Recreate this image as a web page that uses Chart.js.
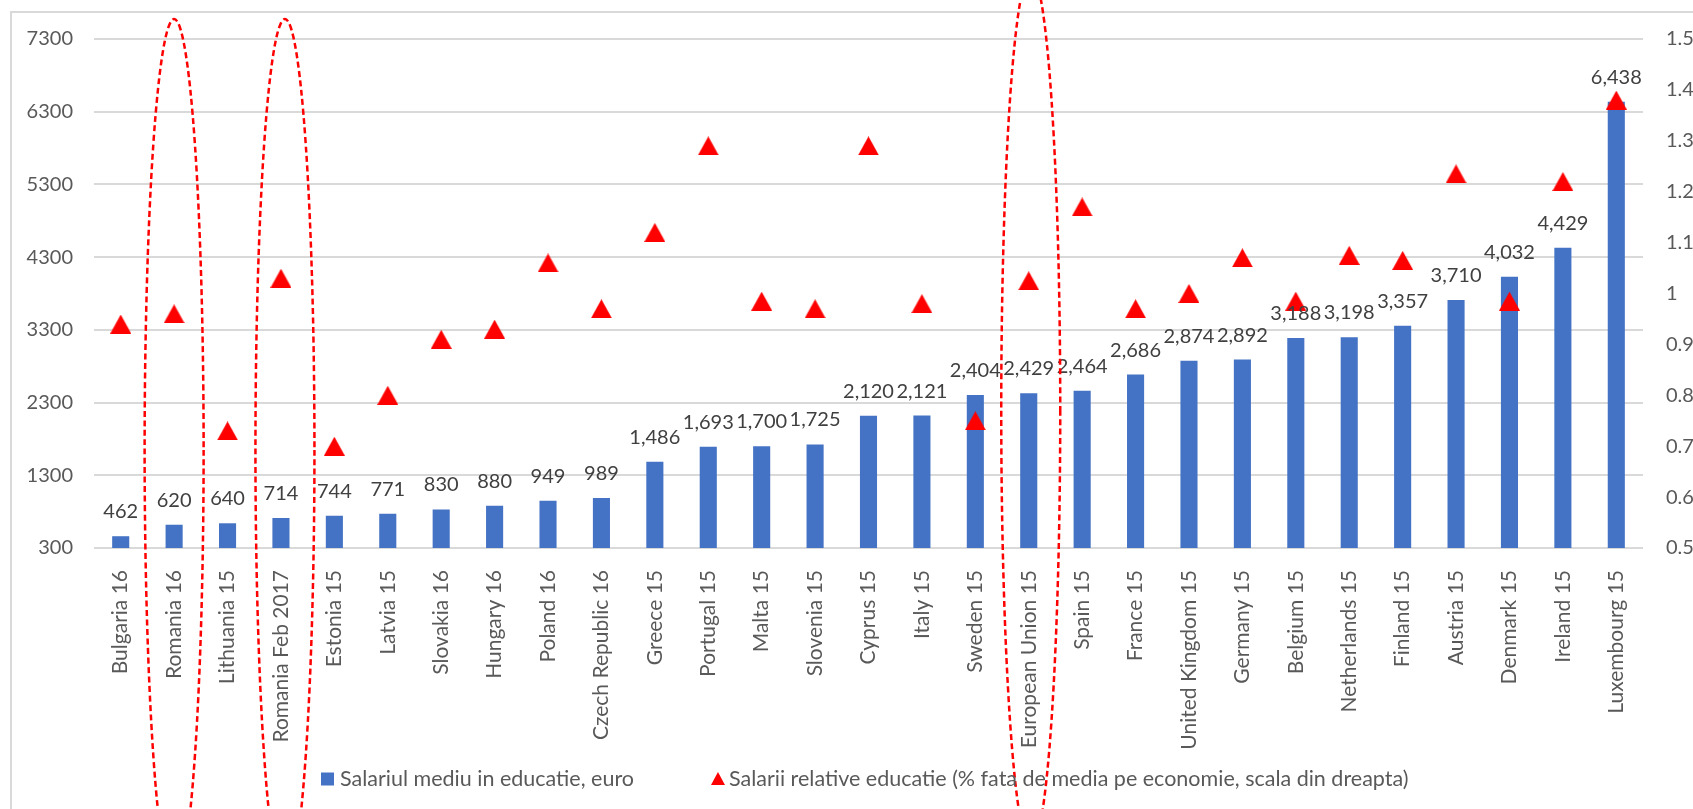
<!DOCTYPE html>
<html>
<head>
<meta charset="utf-8">
<script src="https://cdn.jsdelivr.net/npm/chart.js@4.4.1/dist/chart.umd.min.js"></script>
<style>
  html, body { margin: 0; padding: 0; background: #ffffff; overflow: hidden; }
  #wrap { position: relative; width: 1693px; height: 809px; }
  #frame { position: absolute; left: 10px; top: 11px; width: 1800px; height: 900px;
           border-left: 2px solid #d9d9d9; border-top: 2px solid #d9d9d9; box-sizing: border-box; }
  canvas { position: absolute; left: 0; top: 0; }
</style>
</head>
<body>
<div id="wrap">
  <div id="frame"></div>
  <canvas id="c" width="1693" height="809"></canvas>
</div>
<script>
const categories = ["Bulgaria 16","Romania 16","Lithuania 15","Romania Feb 2017","Estonia 15","Latvia 15","Slovakia 16","Hungary 16","Poland 16","Czech Republic 16","Greece 15","Portugal 15","Malta 15","Slovenia 15","Cyprus 15","Italy 15","Sweden 15","European Union 15","Spain 15","France 15","United Kingdom 15","Germany 15","Belgium 15","Netherlands 15","Finland 15","Austria 15","Denmark 15","Ireland 15","Luxembourg 15"];
const salaryEuro = [462,620,640,714,744,771,830,880,949,989,1486,1693,1700,1725,2120,2121,2404,2429,2464,2686,2874,2892,3188,3198,3357,3710,4032,4429,6438];
const relativeSalary = [0.94,0.96,0.73,1.03,0.70,0.80,0.91,0.93,1.06,0.97,1.12,1.29,0.985,0.97,1.29,0.98,0.75,1.025,1.17,0.97,1.0,1.07,0.985,1.075,1.065,1.235,0.985,1.22,1.38];
const leftTicks = [300,1300,2300,3300,4300,5300,6300,7300];
const rightTicks = [0.5,0.6,0.7,0.8,0.9,1,1.1,1.2,1.3,1.4,1.5];
const seriesNames = ["Salariul mediu in educatie, euro","Salarii relative educatie (% fata de media pe economie, scala din dreapta)"];
const highlighted = ["Romania 16","Romania Feb 2017","European Union 15"];

const BLUE = '#4472C4', RED = '#FF0000', TEXT = '#595959';

function makeTriangle(w, h, color) {
  const c = document.createElement('canvas');
  c.width = w; c.height = h;
  const g = c.getContext('2d');
  g.fillStyle = color;
  g.beginPath(); g.moveTo(w / 2, 0); g.lineTo(w, h); g.lineTo(0, h); g.closePath(); g.fill();
  return c;
}
const triMarker = makeTriangle(21, 19, RED);

const barLabels = {
  id: 'barLabels',
  afterDatasetsDraw(chart) {
    const meta = chart.getDatasetMeta(0);
    const ctx = chart.ctx;
    ctx.save();
    ctx.font = '20px Lato';
    ctx.fillStyle = '#404040';
    ctx.textAlign = 'center';
    ctx.textBaseline = 'alphabetic';
    meta.data.forEach((bar, i) => {
      ctx.fillText(salaryEuro[i].toLocaleString('en-US'), bar.x, bar.y - 18);
    });
    ctx.restore();
  }
};

const ellipses = {
  id: 'ellipses',
  afterDraw(chart) {
    const ctx = chart.ctx;
    const xs = chart.scales.x;
    const top = chart.chartArea.top;
    const specs = [
      { name: highlighted[0], dx: 0, cy: top + 411, ry: 431 },
      { name: highlighted[1], dx: 4, cy: top + 411, ry: 431 },
      { name: highlighted[2], dx: 2, cy: top + 371, ry: 437 }
    ];
    ctx.save();
    ctx.strokeStyle = RED;
    ctx.lineWidth = 2.5;
    ctx.setLineDash([6, 3.5]);
    specs.forEach(s => {
      const idx = categories.indexOf(s.name);
      const cx = xs.getPixelForValue(idx) + s.dx;
      ctx.beginPath();
      ctx.ellipse(cx, s.cy, 29.5, s.ry, 0, 0, Math.PI * 2);
      ctx.stroke();
    });
    ctx.restore();
  }
};

const bottomLegend = {
  id: 'bottomLegend',
  afterDraw(chart) {
    const ctx = chart.ctx;
    const ds = chart.data.datasets;
    const yc = 779;
    ctx.save();
    ctx.font = '21.5px Lato';
    ctx.textBaseline = 'middle';
    ctx.textAlign = 'left';
    let x = 321;
    ctx.fillStyle = ds[0].backgroundColor;
    ctx.fillRect(x, yc - 6.5, 13, 13);
    x += 19;
    ctx.fillStyle = TEXT;
    ctx.fillText(ds[0].label, x, yc);
    x += ctx.measureText(ds[0].label).width + 77;
    ctx.fillStyle = ds[1].backgroundColor;
    ctx.beginPath();
    ctx.moveTo(x + 7, yc - 7); ctx.lineTo(x + 14, yc + 6); ctx.lineTo(x, yc + 6); ctx.closePath(); ctx.fill();
    x += 18;
    ctx.fillStyle = TEXT;
    ctx.fillText(ds[1].label, x, yc);
    ctx.restore();
  }
};

const chart = new Chart(document.getElementById('c'), {
  data: {
    labels: categories,
    datasets: [
      {
        type: 'bar',
        label: seriesNames[0],
        data: salaryEuro,
        backgroundColor: BLUE,
        borderWidth: 0,
        barPercentage: 0.32,
        categoryPercentage: 1.0,
        yAxisID: 'y',
        order: 2
      },
      {
        type: 'line',
        label: seriesNames[1],
        data: relativeSalary,
        showLine: false,
        pointStyle: triMarker,
        pointRadius: 10,
        backgroundColor: RED,
        borderColor: RED,
        yAxisID: 'y1',
        order: 1
      }
    ]
  },
  options: {
    responsive: false,
    animation: false,
    devicePixelRatio: 1,
    layout: { padding: { top: 39, left: 0, right: 0, bottom: 0 } },
    plugins: {
      tooltip: { enabled: false },
      legend: { display: false }
    },
    scales: {
      x: {
        grid: { display: false },
        border: { display: false },
        ticks: {
          autoSkip: false,
          minRotation: 90,
          maxRotation: 90,
          padding: 14,
          color: TEXT,
          font: { family: 'Lato', size: 21 }
        },
        afterFit(scale) { scale.height = 261; }
      },
      y: {
        position: 'left',
        min: 300,
        max: 7300,
        afterBuildTicks(scale) { scale.ticks = leftTicks.map(v => ({ value: v })); },
        afterFit(scale) { scale.width = 94; },
        grid: { color: '#d9d9d9', lineWidth: 2, drawTicks: false },
        border: { display: false },
        ticks: {
          padding: 21,
          color: TEXT,
          font: { family: 'Lato', size: 20 },
          callback: v => String(v)
        }
      },
      y1: {
        position: 'right',
        min: 0.5,
        max: 1.5,
        afterBuildTicks(scale) { scale.ticks = rightTicks.map(v => ({ value: v })); },
        afterFit(scale) { scale.width = 50; },
        grid: { display: false, drawTicks: false },
        border: { display: false },
        ticks: {
          padding: 23,
          color: TEXT,
          font: { family: 'Lato', size: 20 },
          callback: v => String(v)
        }
      }
    }
  },
  plugins: [barLabels, ellipses, bottomLegend]
});
</script>
</body>
</html>
